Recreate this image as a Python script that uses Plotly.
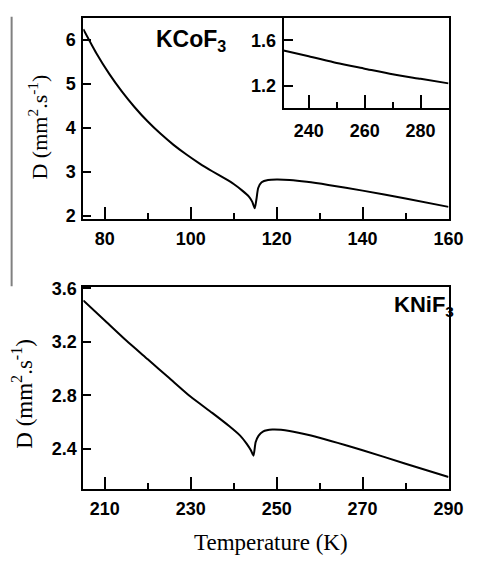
import plotly.graph_objects as go

# KCoF3 main curve (T in K, D in mm^2/s)
kco_T = [75, 78, 81, 84, 87, 90, 93, 96, 99, 102, 105, 108, 110, 112, 113.5, 114.3, 114.9,
         115.3, 115.7, 116.5, 118, 120, 123, 127, 132, 140, 150, 160]
kco_D = [6.24, 5.70, 5.23, 4.82, 4.46, 4.14, 3.86, 3.61, 3.39, 3.19, 3.01, 2.84, 2.72, 2.57, 2.44, 2.32, 2.17,
         2.38, 2.63, 2.76, 2.81, 2.82, 2.81, 2.77, 2.70, 2.57, 2.39, 2.20]

# KCoF3 inset (high temperature)
ins_T = [231, 240, 250, 260, 270, 280, 290]
ins_D = [1.51, 1.46, 1.40, 1.35, 1.30, 1.26, 1.22]

# KNiF3 curve
kni_T = [205, 210, 215, 220, 225, 230, 235, 239, 241.5, 243, 244, 244.6,
         245.1, 245.8, 246.8, 249, 253, 258, 270, 280, 290]
kni_D = [3.51, 3.36, 3.21, 3.07, 2.93, 2.79, 2.67, 2.57, 2.50, 2.44, 2.39, 2.35,
         2.45, 2.50, 2.53, 2.545, 2.535, 2.50, 2.39, 2.29, 2.19]

W, H = 480, 562
def px(x): return x / W
def py(y): return 1 - y / H

line = dict(color="black", width=2)
fig = go.Figure()
fig.add_trace(go.Scatter(x=kco_T, y=kco_D, mode="lines", line=dict(shape="spline", smoothing=0.6, **line), xaxis="x", yaxis="y"))
fig.add_trace(go.Scatter(x=ins_T, y=ins_D, mode="lines", line=dict(shape="spline", smoothing=0.6, **line), xaxis="x2", yaxis="y2"))
fig.add_trace(go.Scatter(x=kni_T, y=kni_D, mode="lines", line=dict(shape="spline", smoothing=0.6, **line), xaxis="x3", yaxis="y3"))

tickfont = dict(family="Liberation Sans, Arial", size=18, color="black", weight="bold")
common = dict(showline=True, mirror=True, linecolor="black", linewidth=2, showgrid=False,
              zeroline=False, ticks="inside", tickcolor="black", tickwidth=2, tickfont=tickfont)

fig.update_layout(
    width=W, height=H, margin=dict(l=0, r=0, t=0, b=0),
    paper_bgcolor="white", plot_bgcolor="rgba(0,0,0,0)", showlegend=False,
    xaxis=dict(domain=[px(86), px(463)], anchor="y", range=[75, 160], tickvals=[80, 100, 120, 140, 160],
               ticklen=12, ticklabelstandoff=2,
               minor=dict(ticks="inside", ticklen=6, tickvals=[90, 110, 130, 150], tickcolor="black", tickwidth=2), **common),
    yaxis=dict(domain=[py(217), py(10)], anchor="x", range=[1.92, 6.5], tickvals=[2, 3, 4, 5, 6],
               ticklen=8, ticklabelstandoff=2, **common),
    xaxis2=dict(domain=[px(292.7), px(463)], anchor="y2", range=[231, 290], tickvals=[240, 260, 280],
                ticklen=13, ticklabelstandoff=5,
                minor=dict(ticks="inside", ticklen=6, tickvals=[250, 270], tickcolor="black", tickwidth=2), **common),
    yaxis2=dict(domain=[py(103), py(10)], anchor="x2", range=[1.0, 1.8], tickvals=[1.2, 1.6], tickformat=".1f",
                ticklen=9, ticklabelstandoff=2, **common),
    xaxis3=dict(domain=[px(86), px(463)], anchor="y3", range=[205, 290], tickvals=[210, 230, 250, 270, 290],
                ticklen=12, ticklabelstandoff=2,
                minor=dict(ticks="inside", ticklen=6, tickvals=[220, 240, 260, 280], tickcolor="black", tickwidth=2), **common),
    yaxis3=dict(domain=[py(494.3), py(286.7)], anchor="x3", range=[2.1, 3.61], tickvals=[2.4, 2.8, 3.2, 3.6], tickformat=".1f",
                ticklen=8, ticklabelstandoff=1, **common),
)

serif = dict(family="Liberation Serif, Times New Roman", color="black")
ann = [
    dict(text="D (mm<sup>2</sup>.s<sup>-1</sup>)", x=px(39), y=py(122), textangle=-90, font=dict(size=22, **serif)),
    dict(text="D (mm<sup>2</sup>.s<sup>-1</sup>)", x=px(23), y=py(396), textangle=-90, font=dict(size=23, **serif)),
    dict(text="Temperature (K)", x=px(280), y=py(549), font=dict(size=23, **serif)),
    dict(text="KCoF<sub>3</sub>", x=px(159), y=py(33), xanchor="left",
         font=dict(family="Liberation Sans, Arial", size=23, color="black", weight="bold")),
    dict(text="KNiF<sub>3</sub>", x=px(405), y=py(306), xanchor="left",
         font=dict(family="Liberation Sans, Arial", size=22, color="black", weight="bold")),
]
for a in ann:
    a.update(xref="paper", yref="paper", showarrow=False)
    a.setdefault("xanchor", "center")
    a.setdefault("yanchor", "middle")
fig.update_layout(annotations=ann)

fig.add_shape(type="line", xref="paper", yref="paper", x0=px(12), x1=px(12), y0=py(9), y1=py(286),
              line=dict(color="#808080", width=2))

fig.write_html("out.html")
